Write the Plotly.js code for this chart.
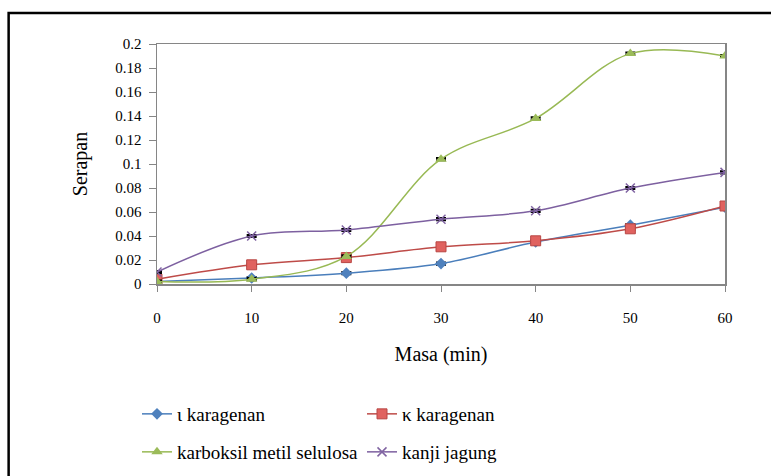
<!DOCTYPE html>
<html>
<head>
<meta charset="utf-8">
<script src="https://cdn.plot.ly/plotly-3.0.1.min.js"></script>
<style>
  html, body { margin: 0; padding: 0; background: #ffffff; }
  #chart { width: 771px; height: 476px; }
</style>
</head>
<body>
<div id="chart"></div>
<script>
// Masa (min) on the x axis
const masa = [0, 10, 20, 30, 40, 50, 60];

// Serapan readings for each thickener
const iotaKaragenan = [0.002, 0.005, 0.009, 0.017, 0.035, 0.049, 0.064];
const kappaKaragenan = [0.004, 0.016, 0.022, 0.031, 0.036, 0.046, 0.065];
const karboksilMetilSelulosa = [0.002, 0.004, 0.023, 0.104, 0.138, 0.192, 0.190];
const kanjiJagung = [0.010, 0.040, 0.045, 0.054, 0.061, 0.080, 0.093];

const seriesNames = ['\u03B9 karagenan', '\u03BA karagenan', 'karboksil metil selulosa', 'kanji jagung'];

const yTicks = [0, 0.02, 0.04, 0.06, 0.08, 0.1, 0.12, 0.14, 0.16, 0.18, 0.2];
const yTickText = ['0', '0.02', '0.04', '0.06', '0.08', '0.1', '0.12', '0.14', '0.16', '0.18', '0.2'];
const xTicks = [0, 10, 20, 30, 40, 50, 60];

const serif = "'Liberation Serif', 'Times New Roman', serif";

// small black cap drawn at each reading
function caps() {
  return { type: 'constant', value: 0.0009, color: '#000000', thickness: 2, width: 5 };
}

function series(y, name, lineColor, symbol, markerColor, markerSize, legendId, markerLine) {
  return {
    x: masa, y: y, name: name, type: 'scatter', mode: 'lines+markers',
    line: { color: lineColor, width: 1.5, shape: 'spline', smoothing: 1 },
    marker: { symbol: symbol, color: markerColor, size: markerSize, line: markerLine },
    error_y: caps(),
    legend: legendId
  };
}

const traces = [
  series(iotaKaragenan, seriesNames[0], '#4a7ebb', 'diamond', '#4f81bd', 9, 'legend', { width: 0 }),
  series(kappaKaragenan, seriesNames[1], '#be4b48', 'square', '#e0625f', 10, 'legend', { width: 1, color: '#b84744' }),
  series(karboksilMetilSelulosa, seriesNames[2], '#98b954', 'triangle-up', '#9bbb59', 10, 'legend2', { width: 0 }),
  series(kanjiJagung, seriesNames[3], '#7d60a0', 'x-thin-open', '#8064a2', 9, 'legend2', { width: 1.5, color: '#8064a2' })
];

const plotL = 156.5, plotR = 725, plotT = 44, plotB = 284;
const W = 771, H = 476;
const pw = plotR - plotL, ph = plotB - plotT;
const px = v => (v - plotL) / pw;
const py = v => (plotB - v) / ph;

const legendCommon = {
  orientation: 'h', xanchor: 'left', yanchor: 'middle',
  xref: 'container', yref: 'container',
  font: { family: serif, size: 19, color: '#000000' },
  entrywidth: 180, entrywidthmode: 'pixels',
  bgcolor: 'rgba(0,0,0,0)', borderwidth: 0, itemclick: false
};

const layout = {
  width: W, height: H,
  margin: { l: plotL, r: W - plotR, t: plotT, b: H - plotB, pad: 0, autoexpand: false },
  paper_bgcolor: '#ffffff', plot_bgcolor: '#ffffff',
  showlegend: true,
  legend: Object.assign({}, legendCommon, { x: 137 / W, y: 1 - 414 / H }),
  legend2: Object.assign({}, legendCommon, { x: 137 / W, y: 1 - 452 / H }),
  xaxis: {
    range: [0, 60], tickvals: xTicks, ticktext: xTicks.map(String),
    showgrid: false, zeroline: false,
    showline: true, linecolor: '#868686', linewidth: 1.5, mirror: true,
    ticks: 'outside', ticklen: 6, tickcolor: '#868686', tickwidth: 1,
    ticklabelstandoff: 13,
    tickfont: { family: serif, size: 15, color: '#000000' },
    title: { text: 'Masa (min)', font: { family: serif, size: 20, color: '#000000' }, standoff: 22 },
    automargin: false
  },
  yaxis: {
    range: [0, 0.2], tickvals: yTicks, ticktext: yTickText,
    showgrid: false, zeroline: false,
    showline: true, linecolor: '#868686', linewidth: 1.5, mirror: true,
    ticks: 'outside', ticklen: 7, tickcolor: '#868686', tickwidth: 1,
    ticklabelstandoff: 4,
    tickfont: { family: serif, size: 15, color: '#000000' },
    title: { text: 'Serapan', font: { family: serif, size: 20, color: '#000000' }, standoff: 22 },
    automargin: false
  },
  shapes: [{
    type: 'rect', xref: 'paper', yref: 'paper',
    x0: px(8), x1: px(W + 10), y0: py(H + 10), y1: py(13),
    line: { color: '#000000', width: 2.5 }, fillcolor: 'rgba(0,0,0,0)', layer: 'above'
  }]
};

Plotly.newPlot('chart', traces, layout, { staticPlot: true, displayModeBar: false });
</script>
</body>
</html>
